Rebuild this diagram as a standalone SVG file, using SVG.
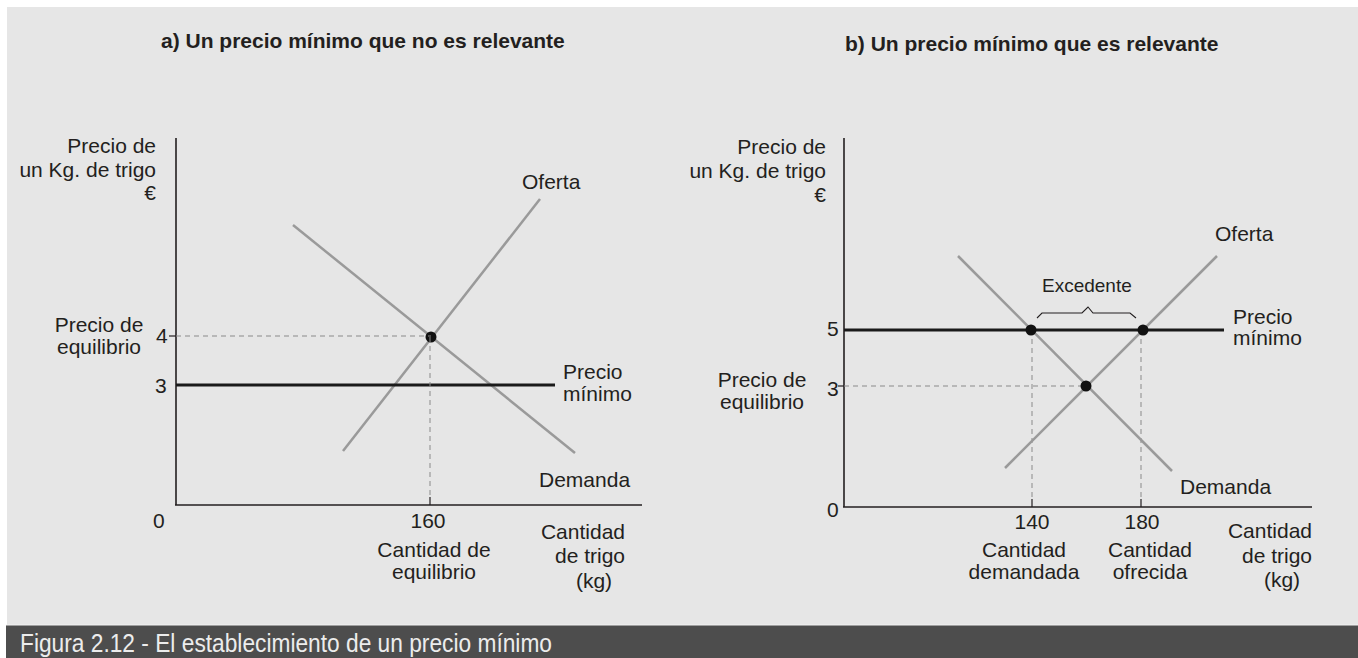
<svg xmlns="http://www.w3.org/2000/svg" width="1358" height="658" viewBox="0 0 1358 658">
<style>
text{font-family:"Liberation Sans",Arial,sans-serif;font-size:21px;fill:#231f20}
.t{font-weight:bold}
.e{font-size:19px}
.m{text-anchor:middle}
.r{text-anchor:end}
.curve{stroke:#9a9a9a;stroke-width:2.5;fill:none}
.dash{stroke:#8a8a8a;stroke-width:1;stroke-dasharray:5,4;fill:none}
.axis{stroke:#231f20;stroke-width:1.6;fill:none}
.pmin{stroke:#1a1a1a;stroke-width:3;fill:none}
.tick{stroke:#231f20;stroke-width:1.2}
.dot{fill:#111}
.foot{font-family:"Liberation Sans Narrow","Liberation Sans",sans-serif;font-size:25px;fill:#ececec}
</style>
<rect x="0" y="0" width="1358" height="658" fill="#ffffff"/>
<rect x="7" y="7" width="1351" height="618" fill="#e6e6e6"/>
<rect x="6" y="625" width="1352" height="33" fill="#4d4d4d"/>
<line x1="6" y1="625" x2="1358" y2="625" stroke="#f2f2f2" stroke-width="1"/>
<text class="foot" x="20" y="652" textLength="532" lengthAdjust="spacingAndGlyphs">Figura 2.12 - El establecimiento de un precio mínimo</text>

<g id="panel-a">
  <text class="t" x="161" y="48">a) Un precio mínimo que no es relevante</text>
  <g id="a-axes">
    <line class="axis" x1="176" y1="138" x2="176" y2="505"/>
    <line class="axis" x1="175" y1="505" x2="642" y2="505"/>
    <line class="tick" x1="169" y1="336" x2="176" y2="336"/>
    <line class="tick" x1="430" y1="497" x2="430" y2="505"/>
  </g>
  <g id="a-labels">
    <text class="r" x="156" y="153">Precio de</text>
    <text class="r" x="156" y="177">un Kg. de trigo</text>
    <text class="r" x="156" y="200">€</text>
    <text class="m" x="99" y="332">Precio de</text>
    <text class="m" x="99" y="354">equilibrio</text>
    <text x="156" y="343">4</text>
    <text x="155" y="393">3</text>
    <text x="153" y="528">0</text>
    <text class="m" x="428" y="528">160</text>
    <text class="m" x="434" y="557">Cantidad de</text>
    <text class="m" x="434" y="579">equilibrio</text>
    <text class="r" x="625" y="539">Cantidad</text>
    <text class="r" x="625" y="563">de trigo</text>
    <text class="m" x="594" y="588">(kg)</text>
  </g>
  <g id="a-oferta">
    <line class="curve" x1="343" y1="451" x2="540" y2="199"/>
    <text x="522" y="189">Oferta</text>
  </g>
  <g id="a-demanda">
    <line class="curve" x1="293" y1="225" x2="575" y2="453"/>
    <text x="539" y="487">Demanda</text>
  </g>
  <g id="a-precio-minimo">
    <line class="pmin" x1="176" y1="385" x2="555" y2="385"/>
    <text x="563" y="379">Precio</text>
    <text x="563" y="401">mínimo</text>
  </g>
  <g id="a-equilibrio">
    <circle class="dot" cx="431" cy="337" r="5.5"/>
  </g>
</g>

<g id="panel-b">
  <text class="t" x="845" y="51">b) Un precio mínimo que es relevante</text>
  <g id="b-axes">
    <line class="axis" x1="844" y1="138" x2="844" y2="507"/>
    <line class="axis" x1="843" y1="507" x2="1312" y2="507"/>
    <line class="tick" x1="838" y1="386" x2="844" y2="386"/>
    <line class="tick" x1="1032" y1="499" x2="1032" y2="507"/>
    <line class="tick" x1="1141" y1="499" x2="1141" y2="507"/>
  </g>
  <g id="b-labels">
    <text class="r" x="826" y="154">Precio de</text>
    <text class="r" x="826" y="178">un Kg. de trigo</text>
    <text class="r" x="826" y="202">€</text>
    <text class="m" x="762" y="387">Precio de</text>
    <text class="m" x="762" y="409">equilibrio</text>
    <text x="827" y="336">5</text>
    <text x="827" y="396">3</text>
    <text x="827" y="517">0</text>
    <text class="m" x="1032" y="529">140</text>
    <text class="m" x="1142" y="529">180</text>
    <text class="m" x="1024" y="557">Cantidad</text>
    <text class="m" x="1024" y="579">demandada</text>
    <text class="m" x="1150" y="557">Cantidad</text>
    <text class="m" x="1150" y="579">ofrecida</text>
    <text class="r" x="1312" y="538">Cantidad</text>
    <text class="r" x="1312" y="563">de trigo</text>
    <text class="m" x="1282" y="587">(kg)</text>
  </g>
  <g id="connectors">
    <line class="dash" x1="176" y1="336" x2="431" y2="336"/>
    <line class="dash" x1="430" y1="337" x2="430" y2="497"/>
    <line class="dash" x1="844" y1="386" x2="1086" y2="386"/>
    <line class="dash" x1="1032" y1="330" x2="1032" y2="499"/>
    <line class="dash" x1="1141" y1="330" x2="1141" y2="499"/>
    <path d="M1037,318 L1042,313 L1082,313 L1088,307 L1093,313 L1130,313 L1136,318" fill="none" stroke="#231f20" stroke-width="1.1"/>
  </g>
  <g id="b-oferta">
    <line class="curve" x1="1005" y1="468" x2="1217" y2="256"/>
    <text x="1215" y="241">Oferta</text>
  </g>
  <g id="b-demanda">
    <line class="curve" x1="958" y1="256" x2="1172" y2="471"/>
    <text x="1180" y="494">Demanda</text>
  </g>
  <g id="b-precio-minimo">
    <line class="pmin" x1="844" y1="330" x2="1224" y2="330"/>
    <text x="1233" y="324">Precio</text>
    <text x="1233" y="345">mínimo</text>
  </g>
  <g id="b-excedente">
    <text class="e" x="1042" y="292">Excedente</text>
  </g>
  <g id="b-puntos">
    <circle class="dot" cx="1031" cy="330" r="5.5"/>
    <circle class="dot" cx="1143" cy="330" r="5.5"/>
    <circle class="dot" cx="1086" cy="386" r="5.5"/>
  </g>
</g>
</svg>
